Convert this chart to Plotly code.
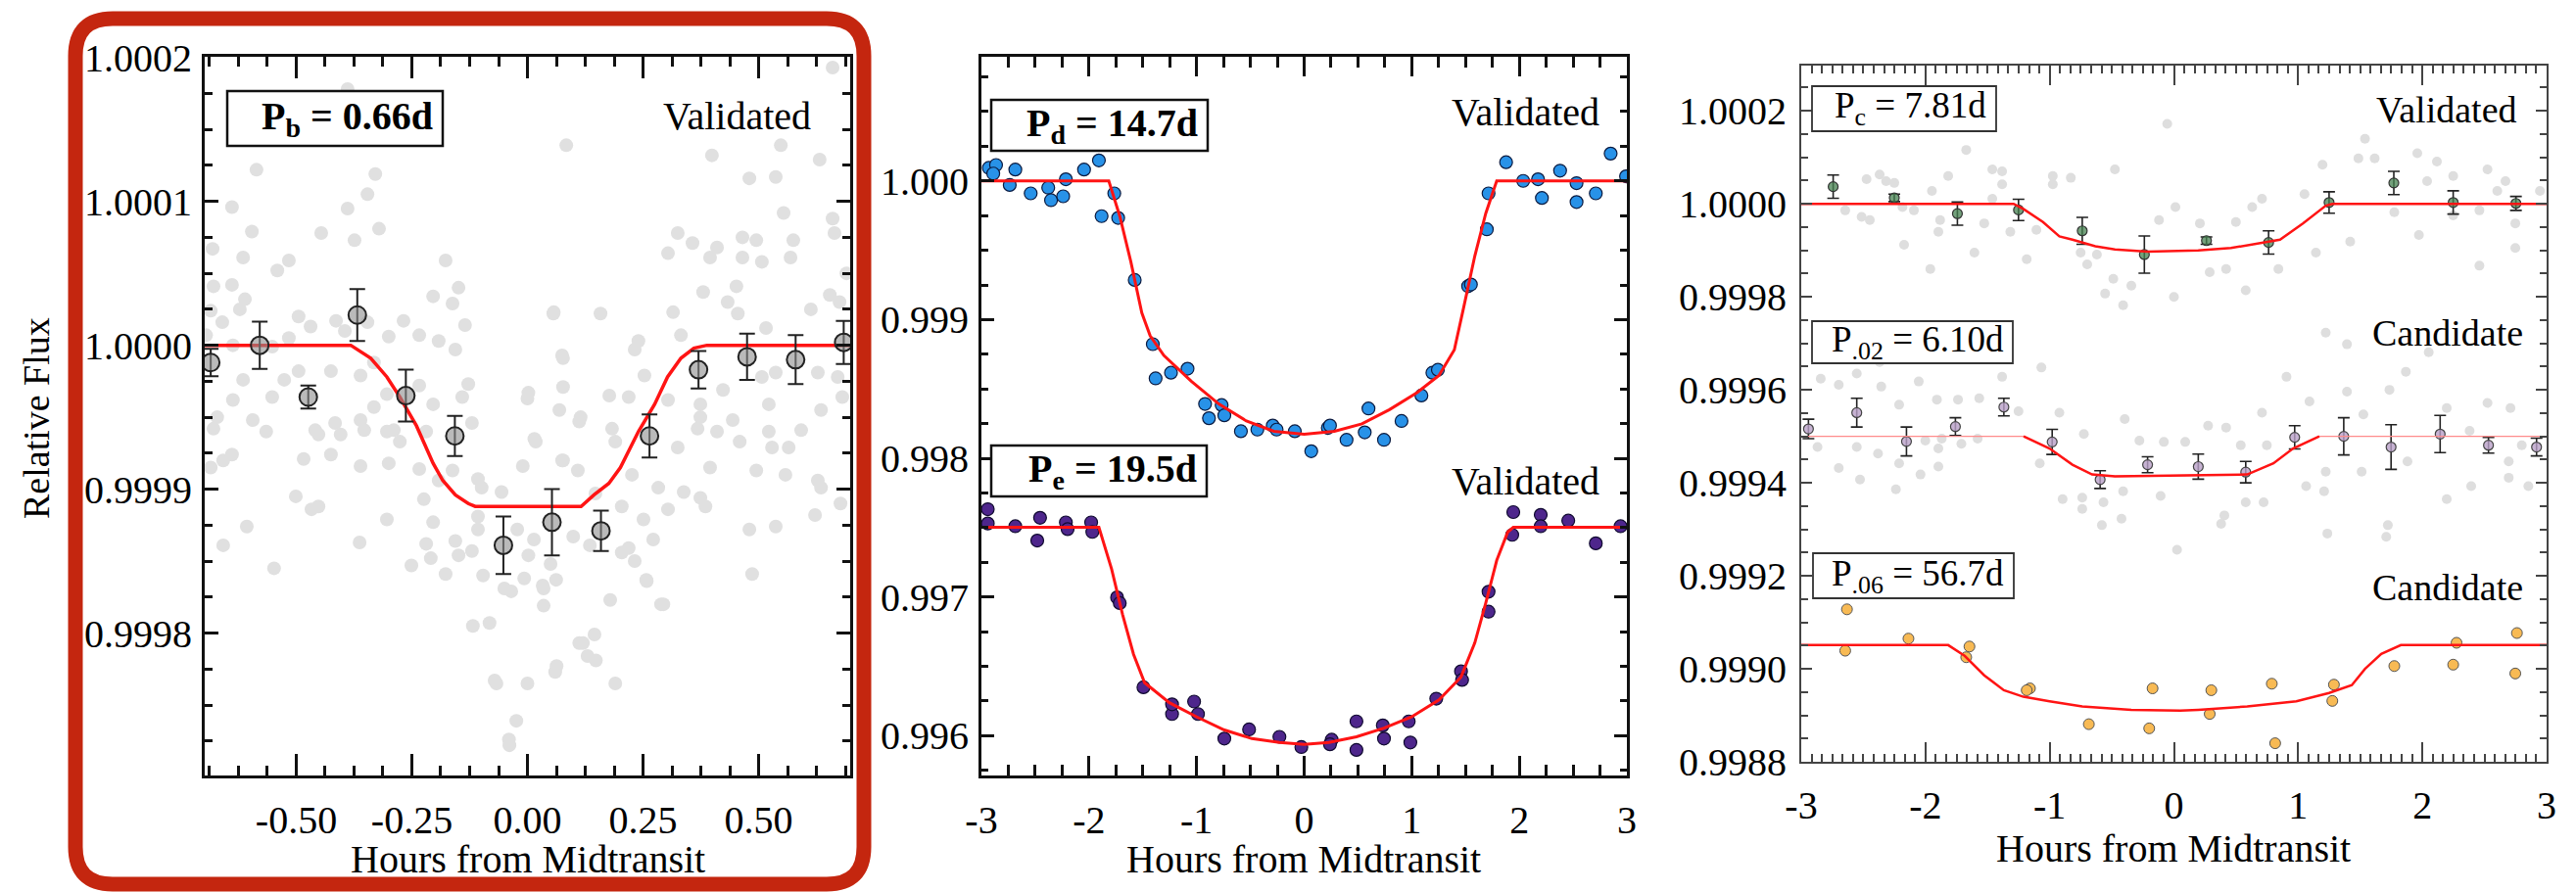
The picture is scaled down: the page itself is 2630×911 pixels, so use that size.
import plotly.graph_objects as go

W, H = 2630, 911
FONT = "Liberation Serif"

# ---------------- Panel 1 : P_b = 0.66 d ----------------
B_GREY_HOURS = [-0.389,-0.586,-0.329,-0.346,-0.639,-0.389,-0.596,-0.446,-0.321,-0.374,-0.681,-0.615,-0.516,-0.541,-0.177,-0.639,-0.679,-0.611,-0.149,-0.204,
                -0.162,-0.685,-0.622,-0.660,-0.495,-0.469,-0.414,-0.395,-0.346,-0.300,-0.268,-0.234,-0.192,-0.156,-0.135,-0.695,-0.552,-0.516,-0.637,-0.332,
                -0.361,-0.526,-0.552,-0.495,-0.425,-0.615,-0.637,-0.671,-0.594,-0.234,-0.304,-0.332,-0.204,-0.141,-0.128,0.000,-0.361,-0.416,-0.459,-0.289,
                -0.120,-0.679,-0.565,-0.452,-0.404,-0.353,-0.304,-0.276,-0.219,-0.658,-0.639,-0.685,-0.484,-0.425,-0.361,-0.300,-0.234,-0.192,-0.162,-0.107,
                -0.099,-0.056,-0.501,-0.467,-0.452,-0.224,-0.304,-0.204,-0.607,-0.107,-0.107,-0.022,-0.658,-0.363,-0.219,-0.156,-0.120,-0.149,-0.209,-0.251,
                -0.177,-0.096,-0.007,-0.050,-0.035,-0.548,-0.118,-0.082,-0.067,0.000,-0.024,-0.039,
                0.018,0.077,0.109,0.190,0.183,0.368,0.410,0.325,0.459,0.522,0.529,0.565,0.395,0.495,0.558,0.226,0.283,0.338,0.374,0.385,
                0.304,0.204,0.147,0.628,0.635,0.677,0.622,0.251,0.480,0.537,0.099,0.272,0.135,0.204,0.219,0.232,0.014,0.050,0.062,0.035,
                0.035,0.257,0.486,0.179,0.289,0.145,0.120,0.130,0.060,0.190,
                0.660,0.084,0.399,0.548,0.632,0.480,0.537,0.554,0.660,0.325,0.357,0.304,0.410,0.395,0.465,0.495,0.465,0.507,0.575,0.569,
                0.664,0.690,0.380,0.452,0.433,0.455,0.516,0.654,0.675,0.613,0.056,0.158,0.315,0.240,0.232,0.332,0.077,0.253,0.077,0.177,
                0.219,0.115,0.304,0.374,0.423,0.537,0.507,0.628,0.635,0.522,0.671,0.681,0.444,0.374,0.592,
                0.057,0.075,0.002,0.069,0.015,0.112,0.075,-0.010,-0.071,0.112,0.148,0.063,0.033,0.002,0.258,0.294,-0.040]
B_GREY_PPM = [178,122,119,105,96,95,79,78,81,73,67,61,59,52,59,42,41,32,40,34,
              29,24,25,16,20,13,17,10,16,6,17,7,3,-3,14,7,-1,5,0,-12,
              -21,-24,-36,-18,-18,-24,-38,-50,-52,-28,-34,-43,-41,-36,-27,-37,-52,-54,-59,-59,
              -54,-58,-60,-62,-62,-59,-60,-67,-60,-80,-76,-85,-79,-76,-84,-82,-86,-94,-87,-93,
              -99,-102,-105,-114,-112,-107,-121,-123,-126,-119,-128,-128,-139,-137,-138,-136,-143,-146,-148,-153,
              -159,-160,-162,-169,-171,-155,-195,-193,-235,-235,-261,-278,
              -67,-80,-87,-67,-58,-58,-60,-71,-67,-60,-71,-71,-85,-87,-90,-90,-99,-102,-106,-112,
              -114,-112,-103,-94,-99,-110,-118,-121,-128,-126,-133,-135,-139,-144,-141,-150,-135,-152,-163,-169,
              -181,-163,-159,-177,-180,-201,-207,-216,-227,-235,
              193,139,132,139,129,116,117,92,88,78,71,64,68,61,75,73,61,58,73,61,
              78,50,37,41,30,22,12,35,30,25,22,22,23,3,-3,7,-9,-21,-29,-35,
              -36,-50,-38,-41,-31,-19,-22,-19,-45,-41,-22,-36,-52,-50,-59,
              23,-7,-33,-45,-65,-53,-80,-84,-233,-207,-219,-223,-167,-146,-164,-180,-274]
B_BIN_HOURS = [-0.685,-0.579,-0.474,-0.368,-0.263,-0.157,-0.052,0.053,0.159,0.264,0.370,0.475,0.580,0.684]
B_BIN_PPM = [-12,0,-36,21,-35,-63,-139,-123,-129,-63,-17,-8,-10,2]
B_BIN_ERR_PPM = [9.5,16.5,8,18,18,14,20,23,14,15,13,16,17,15]
B_MODEL_HOURS = [-0.75,-0.382,-0.339,-0.304,-0.276,-0.240,-0.204,-0.183,-0.156,-0.128,-0.113,0.116,0.144,0.176,0.201,0.219,0.240,0.275,0.303,0.332,0.360,0.388,0.75]
B_MODEL_PPM = [0,0,-9,-22,-36,-56,-82,-94,-104,-110,-112,-112,-104,-96,-85,-73,-60,-41,-22,-9,-2,0,0]

# ---------------- Panel 2 : P_d = 14.7 d and P_e = 19.5 d ----------------
D_HOURS = [-2.931,-2.864,-2.890,-2.737,-2.685,-2.542,-2.379,-2.353,-2.240,-2.215,-2.046,-1.908,-1.883,-1.765,-1.729,-1.575,-1.407,-1.381,-1.238,-1.084,
           -0.921,-0.885,-0.767,-0.742,-0.588,-0.435,-0.292,-0.256,-0.087,0.066,0.220,0.240,0.394,0.563,0.598,0.742,0.905,1.090,1.192,1.243,
           1.524,1.550,1.698,1.714,1.877,2.036,2.174,2.210,2.379,2.532,2.532,2.711,2.849,2.992]
D_PPM = [94,115,53,-29,82,-90,-49,-139,-111,12,82,148,-254,-90,-267,-714,-1177,-1424,-1383,-1354,
         -1608,-1711,-1616,-1690,-1805,-1793,-1764,-1793,-1805,-1949,-1781,-1764,-1867,-1813,-1641,-1867,-1731,-1547,-1383,-1362,
         -759,-747,-349,-90,135,0,12,-123,74,-16,-152,-90,197,33]
D_MODEL_HOURS = [-3,-1.816,-1.714,-1.611,-1.509,-1.432,-1.304,-1.049,-0.793,-0.537,-0.281,0,0.281,0.537,0.793,1.049,1.253,1.396,1.483,1.586,1.688,1.790,3]
D_MODEL_PPM = [0,0,-254,-583,-952,-1116,-1259,-1444,-1608,-1731,-1805,-1826,-1805,-1752,-1649,-1526,-1403,-1218,-911,-542,-234,0,0]

E_HOURS = [-2.941,-2.941,-2.685,-2.481,-2.455,-2.215,-2.199,-1.980,-1.969,-1.739,-1.714,-1.494,-1.228,-1.228,-1.023,-0.987,-0.742,-0.512,-0.230,-0.026,
           0.256,0.240,0.486,0.486,0.731,0.742,0.972,0.987,1.228,1.458,1.468,1.714,1.714,1.944,1.934,2.199,2.199,2.455,2.711,2.941]
E_PPM = [-2367,-2470,-2490,-2593,-2429,-2462,-2511,-2462,-2531,-3003,-3044,-3651,-3844,-3774,-3754,-3844,-4021,-3955,-4008,-4082,
         -4029,-4062,-3897,-4103,-3926,-4021,-3897,-4049,-3733,-3536,-3598,-2962,-3106,-2388,-2552,-2408,-2490,-2449,-2613,-2490]
E_MODEL_HOURS = [-3,-1.908,-1.790,-1.688,-1.586,-1.483,-1.253,-0.997,-0.742,-0.486,-0.230,0,0.230,0.486,0.742,0.997,1.253,1.458,1.586,1.688,1.790,1.893,1.944,3]
E_MODEL_PPM = [-2498,-2498,-2798,-3126,-3413,-3618,-3762,-3865,-3959,-4021,-4049,-4062,-4049,-4008,-3946,-3865,-3742,-3577,-3331,-3044,-2736,-2531,-2498,-2498]

# ---------------- Panel 3 : P_c = 7.81 d, P_.02 = 6.10 d, P_.06 = 56.7 d ----------------
C3_GREY_HOURS = [-1.672,-0.054,-1.817,-1.462,-1.383,-1.383,-2.474,-2.369,-2.317,-2.251,-1.948,-0.975,-0.975,-0.830,-0.475,-2.646,-2.514,-2.448,-2.185,-2.093,
                 -1.882,-1.896,-1.527,-1.317,-1.462,-1.107,-0.120,-2.172,-1.606,-1.185,-0.751,-0.698,-0.620,-1.961,-0.488,-0.554,-0.343,-0.409,0.000,-1.067,
                 -1.383,-2.843,-2.698,-2.553,-2.356,-2.369,-2.054,-1.908,-1.738,-1.567,-2.212,-1.251,-0.922,-0.396,-2.869,-2.553,-2.382,-2.001,-1.869,-1.580,
                 -1.896,-2.212,-2.698,-2.040,-2.527,-2.238,-1.080,-0.725,-0.278,-0.081,-0.896,-0.738,-0.738,-0.567,-0.409,-0.107,-0.580,-0.422,-1.896,-1.711,
                 0.025,1.538,1.485,1.616,1.959,1.196,2.117,2.524,2.248,2.038,2.669,2.946,2.603,0.709,1.051,0.012,0.630,1.774,2.248,2.459,
                 2.748,0.209,0.499,1.419,1.972,2.748,1.143,0.288,0.420,0.841,2.459,0.578,1.222,1.393,2.051,0.906,1.867,1.393,1.735,1.091,
                 0.709,0.275,0.420,1.525,2.196,2.524,2.709,0.091,0.538,0.748,2.380,2.800,1.222,1.511,1.880,2.695,2.695,1.064,2.393,2.853,
                 0.578,0.722,2.196,0.406,0.380,1.722,1.709,1.235,1.209]
C3_GREY_PPM = [116,172,60,74,70,42,53,63,49,45,28,60,42,56,74,-14,-28,-35,-7,-14,
               -35,-60,-42,-60,11,-56,-35,-88,-105,-119,-105,-130,-109,-140,-161,-193,-176,-218,-200,-352,
               -372,-376,-389,-365,-393,-340,-382,-421,-421,-418,-432,-446,-449,-463,-523,-523,-537,-509,-505,-505,
               -526,-558,-568,-582,-593,-614,-558,-495,-509,-512,-635,-632,-656,-642,-618,-628,-691,-677,-565,-516,
               -744,140,98,98,109,84,91,74,60,49,49,28,28,11,21,-7,-7,-18,-25,-14,
               -42,-42,-39,-81,-67,-95,-105,-147,-140,-140,-133,-186,-277,-302,-319,-372,-361,-404,-400,-425,
               -449,-477,-481,-453,-439,-428,-439,-512,-519,-519,-488,-519,-576,-576,-554,-554,-589,-607,-607,-607,
               -642,-642,-635,-670,-688,-691,-716,-709,-618]
C_BIN_HOURS = [-2.743,-2.251,-1.743,-1.251,-0.738,-0.238,0.262,0.762,1.249,1.770,2.248,2.753]
C_BIN_PPM = [37,13,-21,-13,-58,-109,-79,-83,3,45,3,1]
C_BIN_ERR_PPM = [25,8,25,23,29,40,8,25,23,25,25,15]
C_MODEL_HOURS = [-3,-1.290,-1.212,-1.054,-0.922,-0.817,-0.633,-0.475,-0.212,0.196,0.459,0.696,0.854,1.038,1.222,1.275,3]
C_MODEL_PPM = [0,0,-11,-39,-70,-77,-91,-98,-103,-100,-95,-84,-77,-42,-4,0,0]

K02_BIN_HOURS = [-2.942,-2.553,-2.153,-1.759,-1.369,-0.980,-0.594,-0.212,0.196,0.578,0.972,1.367,1.748,2.143,2.532,2.919]
K02_BIN_PPM = [-484,-449,-511,-479,-437,-512,-593,-561,-565,-577,-502,-500,-523,-495,-519,-523]
K02_BIN_ERR_PPM = [21,31,31,19,19,27,19,17,27,23,25,40,48,40,17,19]
K02_MODEL_HOURS = [-3,-1.21,-1.001,-0.817,-0.659,-0.475,0.590,0.801,0.959,1.170,3]
K02_MODEL_PPM = [-500,-500,-526,-561,-582,-586,-582,-558,-526,-500,-500]

K06_HOURS = [-2.632,-2.646,-2.137,-1.646,-1.672,-1.159,-1.185,-0.685,-0.172,-0.199,0.301,0.288,0.788,0.815,1.288,1.275,1.774,2.275,2.248,2.761,2.748]
K06_PPM = [-872,-961,-935,-952,-975,-1042,-1046,-1119,-1042,-1128,-1046,-1097,-1032,-1160,-1034,-1069,-994,-944,-991,-923,-1010]
K06_MODEL_HOURS = [-3,-1.817,-1.685,-1.527,-1.369,-1.212,-1.001,-0.738,-0.343,0.051,0.196,0.590,0.985,1.249,1.432,1.538,1.669,1.827,3]
K06_MODEL_PPM = [-949,-949,-972,-1014,-1046,-1060,-1070,-1081,-1088,-1090,-1088,-1081,-1070,-1052,-1035,-1000,-968,-949,-949]

# ---------------- Ticks and labels ----------------
X1_TICKS = [-0.5, -0.25, 0.0, 0.25, 0.5]
X1_LABELS = ["-0.50", "-0.25", "0.00", "0.25", "0.50"]
Y1_TICKS = [0.9998, 0.9999, 1.0, 1.0001, 1.0002]
Y1_LABELS = ["0.9998", "0.9999", "1.0000", "1.0001", "1.0002"]
X_HOUR_TICKS = [-3, -2, -1, 0, 1, 2, 3]
X_HOUR_LABELS = ["-3", "-2", "-1", "0", "1", "2", "3"]
Y2_TICKS = [0.996, 0.997, 0.998, 0.999, 1.0]
Y2_LABELS = ["0.996", "0.997", "0.998", "0.999", "1.000"]
Y3_TICKS = [0.9988, 0.9990, 0.9992, 0.9994, 0.9996, 0.9998, 1.0, 1.0002]
Y3_LABELS = ["0.9988", "0.9990", "0.9992", "0.9994", "0.9996", "0.9998", "1.0000", "1.0002"]

PERIOD_LABELS = ["<b>P<sub>b</sub> = 0.66d</b>", "<b>P<sub>d</sub> = 14.7d</b>", "<b>P<sub>e</sub> = 19.5d</b>",
                 "P<sub>c</sub> = 7.81d", "P<sub>.02</sub> = 6.10d", "P<sub>.06</sub> = 56.7d"]
STATUS_LABELS = ["Validated", "Validated", "Validated", "Validated", "Candidate", "Candidate"]
X_TITLE = "Hours from Midtransit"
Y_TITLE = "Relative Flux"


def flux(ppm):
    return [1.0 + v * 1e-6 for v in ppm]


def err(ppm):
    return [v * 1e-6 for v in ppm]


def px(x):
    return x / W


def py(y):
    return 1 - y / H


fig = go.Figure()

# Panel 1
fig.add_trace(go.Scatter(x=B_GREY_HOURS, y=flux(B_GREY_PPM), mode="markers", xaxis="x", yaxis="y",
                         marker=dict(size=14, color="rgb(224,224,224)"), hoverinfo="skip"))
fig.add_trace(go.Scatter(x=B_MODEL_HOURS, y=flux(B_MODEL_PPM), mode="lines", xaxis="x", yaxis="y",
                         line=dict(color="#FF1414", width=3.5)))
fig.add_trace(go.Scatter(x=B_BIN_HOURS, y=flux(B_BIN_PPM), mode="markers", xaxis="x", yaxis="y",
                         marker=dict(size=18, color="rgba(140,140,140,0.6)", line=dict(color="#222", width=2)),
                         error_y=dict(type="data", array=err(B_BIN_ERR_PPM), color="#222", thickness=2, width=8)))

# Panel 2
fig.add_trace(go.Scatter(x=D_HOURS, y=flux(D_PPM), mode="markers", xaxis="x2", yaxis="y2",
                         marker=dict(size=13, color="rgb(40,146,232)", line=dict(color="#0a1a40", width=1.2))))
fig.add_trace(go.Scatter(x=E_HOURS, y=flux(E_PPM), mode="markers", xaxis="x2", yaxis="y2",
                         marker=dict(size=13, color="rgb(78,38,140)", line=dict(color="#100a30", width=1.2))))
fig.add_trace(go.Scatter(x=D_MODEL_HOURS, y=flux(D_MODEL_PPM), mode="lines", xaxis="x2", yaxis="y2",
                         line=dict(color="#FF1414", width=3)))
fig.add_trace(go.Scatter(x=E_MODEL_HOURS, y=flux(E_MODEL_PPM), mode="lines", xaxis="x2", yaxis="y2",
                         line=dict(color="#FF1414", width=3)))

# Panel 3
fig.add_trace(go.Scatter(x=C3_GREY_HOURS, y=flux(C3_GREY_PPM), mode="markers", xaxis="x3", yaxis="y3",
                         marker=dict(size=10, color="rgb(222,222,222)"), hoverinfo="skip"))
fig.add_trace(go.Scatter(x=C_BIN_HOURS, y=flux(C_BIN_PPM), mode="markers", xaxis="x3", yaxis="y3",
                         marker=dict(size=10, color="rgba(70,130,80,0.75)", line=dict(color="#333", width=1.2)),
                         error_y=dict(type="data", array=err(C_BIN_ERR_PPM), color="#222", thickness=1.6, width=6)))
fig.add_trace(go.Scatter(x=K02_BIN_HOURS, y=flux(K02_BIN_PPM), mode="markers", xaxis="x3", yaxis="y3",
                         marker=dict(size=10, color="rgba(185,160,200,0.8)", line=dict(color="#444", width=1.2)),
                         error_y=dict(type="data", array=err(K02_BIN_ERR_PPM), color="#222", thickness=1.6, width=6)))
fig.add_trace(go.Scatter(x=K06_HOURS, y=flux(K06_PPM), mode="markers", xaxis="x3", yaxis="y3",
                         marker=dict(size=11, color="rgb(248,186,84)", line=dict(color="#555", width=1))))
fig.add_trace(go.Scatter(x=C_MODEL_HOURS, y=flux(C_MODEL_PPM), mode="lines", xaxis="x3", yaxis="y3",
                         line=dict(color="#FF1414", width=2.5)))
fig.add_trace(go.Scatter(x=K02_MODEL_HOURS, y=flux(K02_MODEL_PPM), mode="lines", xaxis="x3", yaxis="y3",
                         line=dict(color="#FF8C8C", width=1.4)))
fig.add_trace(go.Scatter(x=K02_MODEL_HOURS[1:-1], y=flux(K02_MODEL_PPM[1:-1]), mode="lines", xaxis="x3", yaxis="y3",
                         line=dict(color="#FF1414", width=2.5)))
fig.add_trace(go.Scatter(x=K06_MODEL_HOURS, y=flux(K06_MODEL_PPM), mode="lines", xaxis="x3", yaxis="y3",
                         line=dict(color="#FF1414", width=2.5)))


def axis(domain_px, horizontal, rng, tickvals, ticktext, minor_dtick, minor_tick0, ticklen, minorlen, lw, color, anchor, standoff):
    if horizontal:
        dom = [px(domain_px[0]), px(domain_px[1])]
    else:
        dom = [py(domain_px[1]), py(domain_px[0])]
    return dict(domain=dom, range=rng, tickmode="array", tickvals=tickvals, ticktext=ticktext,
                ticks="inside", ticklen=ticklen, tickwidth=lw, tickcolor=color,
                minor=dict(ticks="inside", dtick=minor_dtick, tick0=minor_tick0, ticklen=minorlen,
                           tickwidth=lw, tickcolor=color, showgrid=False),
                showline=True, linewidth=lw, linecolor=color, mirror="ticks",
                showgrid=False, zeroline=False, anchor=anchor, ticklabelstandoff=standoff,
                tickfont=dict(family=FONT, size=40, color="black"))


fig.update_layout(
    xaxis=axis((209, 868), True, [-0.698, 0.698], X1_TICKS, X1_LABELS, 0.0625, 0, 22, 10, 3, "#111", "y", 8),
    yaxis=axis((58, 792), False, [0.999701, 1.0002005], Y1_TICKS, Y1_LABELS, 0.000025, 1.0, 14, 8, 3, "#111", "x", 2),
    xaxis2=axis((1002, 1661), True, [-3, 3], X_HOUR_TICKS, X_HOUR_LABELS, 0.25, 0, 20, 11, 3, "#111", "y2", 8),
    yaxis2=axis((58, 792), False, [0.995713, 1.000895], Y2_TICKS, Y2_LABELS, 0.00025, 1.0, 13, 7, 3, "#111", "x2", 2),
    xaxis3=axis((1839, 2600), True, [-3, 3], X_HOUR_TICKS, X_HOUR_LABELS, 1 / 12, 0, 20, 8, 2, "#444", "y3", 8),
    yaxis3=axis((66.7, 778.3), False, [0.9987995, 1.000298], Y3_TICKS, Y3_LABELS, 0.00005, 1.0, 11, 7, 2, "#444", "x3", 5),
)

shapes = []
annotations = []


def label(x, y, s, size, xanchor="center", yanchor="middle", angle=0):
    annotations.append(dict(x=px(x), y=py(y), xref="paper", yref="paper", text=s, showarrow=False,
                            xanchor=xanchor, yanchor=yanchor, textangle=angle,
                            font=dict(family=FONT, size=size, color="black")))


def box(x0, y0, x1, y1, lw, color):
    shapes.append(dict(type="rect", xref="paper", yref="paper", x0=px(x0), x1=px(x1), y0=py(y1), y1=py(y0),
                       fillcolor="white", line=dict(color=color, width=lw), layer="above"))


# period boxes
box(232, 93, 452, 149, 2.5, "#111")
box(1012, 102, 1233, 154, 2.5, "#111")
box(1012, 455, 1232, 507, 2.5, "#111")
box(1850, 88, 2038, 134, 1.8, "#333")
box(1850, 328, 2055, 371, 1.8, "#333")
box(1851, 565, 2056, 611, 1.8, "#333")

label(444, 121, PERIOD_LABELS[0], 40, xanchor="right")
label(1225, 128, PERIOD_LABELS[1], 40, xanchor="right")
label(1224, 481, PERIOD_LABELS[2], 40, xanchor="right")
label(2030, 111, PERIOD_LABELS[3], 37, xanchor="right")
label(2048, 349, PERIOD_LABELS[4], 37, xanchor="right")
label(2048, 588, PERIOD_LABELS[5], 37, xanchor="right")

label(830, 118, STATUS_LABELS[0], 40, xanchor="right")
label(1635, 115, STATUS_LABELS[1], 40, xanchor="right")
label(1635, 491, STATUS_LABELS[2], 40, xanchor="right")
label(2572, 112, STATUS_LABELS[3], 38, xanchor="right")
label(2578, 340, STATUS_LABELS[4], 38, xanchor="right")
label(2578, 600, STATUS_LABELS[5], 38, xanchor="right")

# axis titles
label(37, 427, Y_TITLE, 38, angle=-90)
label(538.5, 877, X_TITLE, 40)
label(1331.5, 877, X_TITLE, 40)
label(2219, 866, X_TITLE, 40)

# rounded red highlight frame around panel 1
x0, x1, y0, y1, r = 77, 882, 19, 903, 38
pts = [("M", [(x0 + r, y0)]), ("L", [(x1 - r, y0)]), ("Q", [(x1, y0), (x1, y0 + r)]),
       ("L", [(x1, y1 - r)]), ("Q", [(x1, y1), (x1 - r, y1)]), ("L", [(x0 + r, y1)]),
       ("Q", [(x0, y1), (x0, y1 - r)]), ("L", [(x0, y0 + r)]), ("Q", [(x0, y0), (x0 + r, y0)])]
path = " ".join(c + " " + " ".join(f"{px(a):.5f},{py(b):.5f}" for a, b in p) for c, p in pts) + " Z"
shapes.append(dict(type="path", path=path, xref="paper", yref="paper",
                   line=dict(color="#C4260F", width=15), layer="above"))

fig.update_layout(
    width=W, height=H, template="none",
    paper_bgcolor="white", plot_bgcolor="white",
    margin=dict(l=0, r=0, t=0, b=0),
    showlegend=False, shapes=shapes, annotations=annotations,
    font=dict(family=FONT, color="black"),
)

fig.write_html("out.html", config={"displayModeBar": False},
               post_script="document.body.style.margin='0';document.body.style.overflow='hidden';")
